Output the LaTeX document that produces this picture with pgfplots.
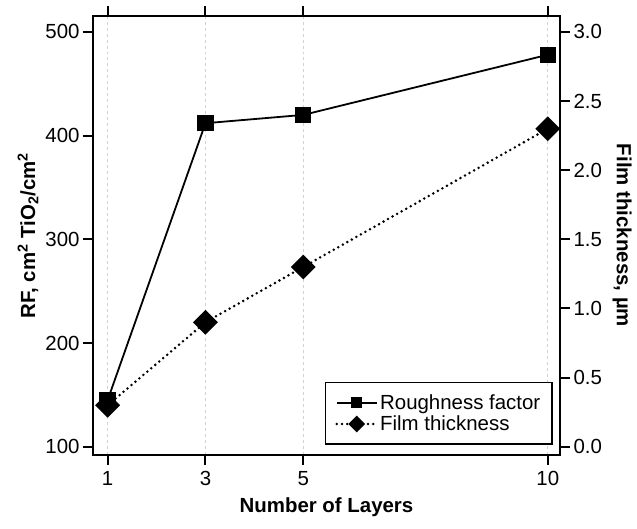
\documentclass[border=0pt]{standalone}
\usepackage{fontspec}
\setmainfont{Liberation Sans}
\usepackage{pgfplots}
\pgfplotsset{compat=1.18}

% shared frame and tick setup for both y scales
\pgfplotsset{
  common/.style={
    scale only axis, width=467bp, height=439bp,
    xmin=0.70, xmax=10.25,
    xtick={1,3,5,10},
    axis line style={line width=2bp},
    major tick style={line width=2bp, black},
    tick align=outside,
    major tick length=10bp,
    /pgf/number format/assume math mode=true,
    tick label style={font=\fontsize{20.5}{24}\selectfont},
    label style={font=\bfseries\fontsize{20.5}{24}\selectfont},
  },
  legend image code/.code={
    \draw[mark repeat=2, mark phase=2, #1, mark size=4.5bp]
      plot coordinates {(0bp,0bp) (20bp,0bp) (40bp,0bp)};
  },
}

\begin{document}
\begin{tikzpicture}
% roughness factor, left scale
\begin{axis}[common, name=main,
  ymin=92, ymax=515.4,
  ytick={100,200,300,400,500},
  ytick pos=left, xtick pos=both,
  xmajorgrids, grid style={dashed, gray!35, line width=0.6bp},
  xlabel={Number of Layers},
  ylabel={RF, cm\textsuperscript{2} TiO\textsubscript{2}/cm\textsuperscript{2}},
  xlabel style={at={(axis description cs:0.5,-0.12)}, anchor=center},
  ylabel style={at={(axis description cs:-0.139,0.5)}, anchor=center},
  xticklabel style={yshift=-3bp},
]
\addplot[black, line width=1.8bp, mark=square*, mark size=7.3bp,
         mark options={solid}]
  coordinates {(1,145) (3,412) (5,420) (10,478)};
\end{axis}

% film thickness, right scale
\begin{axis}[common,
  axis x line=none,
  axis y line*=right,
  ymin=-0.06, ymax=3.1155,
  ytick={0,0.5,...,3},
  yticklabel style={/pgf/number format/.cd, fixed, fixed zerofill, precision=1},
  ylabel={Film thickness, µm},
  ylabel style={at={(axis description cs:1.133,0.5)}, anchor=center, rotate=180},
  legend style={at={(axis description cs:0.985,0.023)}, anchor=south east,
    draw=black, line width=1.5bp, font=\fontsize{20.5}{24}\selectfont,
    inner xsep=10bp, inner ysep=10bp, row sep=1bp,
    /tikz/every even column/.append style={column sep=5bp}},
  legend cell align=left,
]
\addlegendimage{black, line width=1.8bp, mark=square*, mark options={solid}}
\addlegendentry{Roughness factor}
\addplot[black, line width=2.8bp, line cap=round, dash pattern=on 0bp off 5.2bp,
         mark=square*, mark size=7.4bp, mark options={solid, rotate=45}]
  coordinates {(1,0.30) (3,0.90) (5,1.30) (10,2.30)};
\addlegendentry{Film thickness}
\end{axis}

\pgfresetboundingbox
\path[use as bounding box] ([xshift=-93bp,yshift=-74bp]main.south west)
  rectangle ([xshift=77bp,yshift=16bp]main.north east);
\end{tikzpicture}
\end{document}
